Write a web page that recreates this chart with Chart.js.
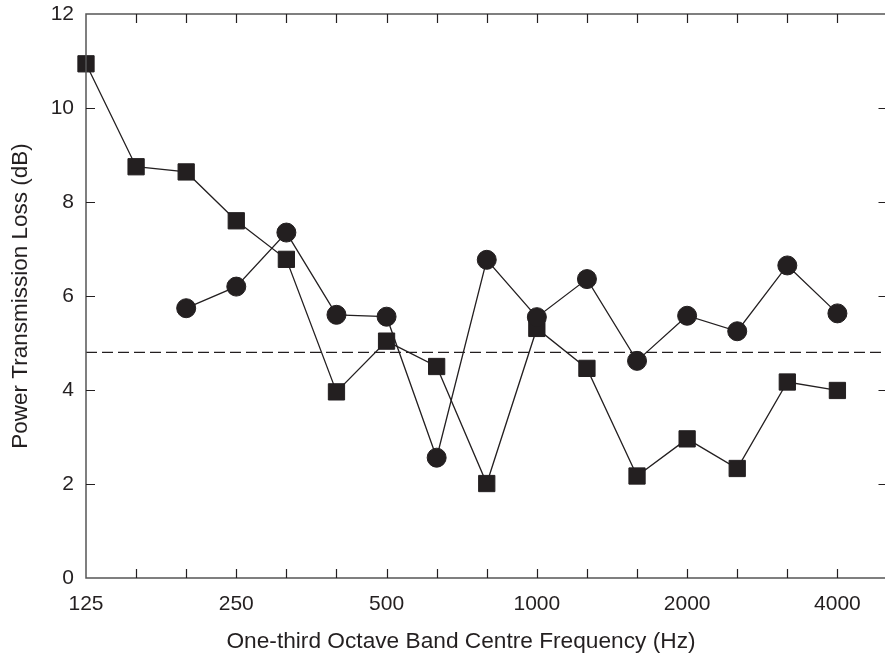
<!DOCTYPE html>
<html>
<head>
<meta charset="utf-8">
<script src="https://cdn.jsdelivr.net/npm/chart.js@4"></script>
<style>
html,body{margin:0;padding:0;background:#fff;overflow:hidden;}
#wrap{width:900px;height:657px;}
</style>
</head>
<body>
<div id="wrap"><canvas id="c" width="900" height="657"></canvas></div>
<script>
// One-third octave band centre frequencies (Hz)
const bands = ['125','160','200','250','315','400','500','630','800','1000','1250','1600','2000','2500','3150','4000'];
// Series with square markers (dB)
const squareSeries = [10.94, 8.75, 8.64, 7.60, 6.78, 3.96, 5.04, 4.50, 2.01, 5.31, 4.46, 2.17, 2.96, 2.33, 4.17, 3.99];
// Series with circle markers (dB), starts at 200 Hz
const circleSeries = [null, null, 5.74, 6.20, 7.35, 5.60, 5.56, 2.56, 6.77, 5.55, 6.36, 4.62, 5.58, 5.25, 6.65, 5.63];
// Horizontal dashed reference level (dB)
const referenceLevel = 4.8;
// Labelled x ticks
const xTickLabels = ['125','250','500','1000','2000','4000'];
const yTicks = [0, 2, 4, 6, 8, 10, 12];
const xTitle = 'One-third Octave Band Centre Frequency (Hz)';
const yTitle = 'Power Transmission Loss (dB)';

const INK = '#231f20';
const FRAME = '#555555';
const FONT = 'Liberation Sans';

const toPoints = arr => arr.map((v, i) => v === null ? null : {x: i, y: v}).filter(p => p);

const framePlugin = {
  id: 'frame',
  afterDatasetsDraw(chart) {
    const {ctx, chartArea: a, scales: {x, y}} = chart;
    ctx.save();
    ctx.strokeStyle = FRAME;
    ctx.lineWidth = 1.5;
    ctx.beginPath();
    ctx.moveTo(a.right + 2, a.top); ctx.lineTo(a.left, a.top);
    ctx.lineTo(a.left, a.bottom); ctx.lineTo(a.right + 2, a.bottom);
    ctx.stroke();
    ctx.strokeStyle = INK;
    ctx.lineWidth = 1.2;
    const tl = 9;
    ctx.beginPath();
    for (let i = 1; i < bands.length; i++) {
      const px = Math.round(x.getPixelForValue(i)) + 0.5;
      ctx.moveTo(px, a.bottom); ctx.lineTo(px, a.bottom - tl);
      ctx.moveTo(px, a.top); ctx.lineTo(px, a.top + tl);
    }
    yTicks.slice(1, -1).forEach(v => {
      const py = Math.round(y.getPixelForValue(v)) + 0.5;
      ctx.moveTo(a.left, py); ctx.lineTo(a.left + tl, py);
      ctx.moveTo(a.right, py); ctx.lineTo(a.right - tl, py);
    });
    ctx.stroke();
    // x-axis title (offset left of the plot centre, as in the original figure)
    ctx.fillStyle = INK;
    ctx.font = '22.7px "' + FONT + '"';
    ctx.textAlign = 'center';
    ctx.textBaseline = 'middle';
    ctx.fillText(xTitle, 461, 642);
    ctx.restore();
  }
};

new Chart(document.getElementById('c'), {
  type: 'line',
  data: {
    datasets: [
      {
        label: 'reference',
        data: [{x: 0, y: referenceLevel}, {x: bands.length, y: referenceLevel}],
        borderColor: INK, borderWidth: 1.3, borderDash: [11, 5],
        pointRadius: 0, fill: false, order: 3, clip: false
      },
      {
        label: 'squares',
        data: toPoints(squareSeries),
        borderColor: INK, borderWidth: 1.3,
        pointStyle: 'rect', pointRadius: 11.5,
        pointBackgroundColor: INK, pointBorderColor: INK, pointBorderWidth: 1,
        fill: false, tension: 0, order: 2, clip: false
      },
      {
        label: 'circles',
        data: toPoints(circleSeries),
        borderColor: INK, borderWidth: 1.3,
        pointStyle: 'circle', pointRadius: 9.5,
        pointBackgroundColor: INK, pointBorderColor: INK, pointBorderWidth: 1,
        fill: false, tension: 0, order: 1, clip: false
      }
    ]
  },
  options: {
    responsive: false,
    animation: false,
    events: [],
    layout: {padding: {top: 14, right: 9, left: 0, bottom: 0}},
    plugins: {legend: {display: false}, tooltip: {enabled: false}},
    scales: {
      x: {
        type: 'linear', min: 0, max: bands.length,
        grid: {display: false, drawTicks: false},
        border: {display: false},
        afterBuildTicks: s => { s.ticks = bands.map((b, i) => ({value: i})); },
        ticks: {
          autoSkip: false, maxRotation: 0, padding: 14,
          color: INK, font: {family: FONT, size: 21},
          callback: v => (xTickLabels.includes(bands[v]) ? bands[v] : '')
        },
        title: {display: false},
        afterFit: s => { s.height = 79; s.paddingLeft = 0; s.paddingRight = 0; }
      },
      y: {
        min: 0, max: 12,
        grid: {display: false, drawTicks: false},
        border: {display: false},
        afterBuildTicks: s => { s.ticks = yTicks.map(v => ({value: v})); },
        ticks: {
          padding: 12, color: INK, font: {family: FONT, size: 21}
        },
        title: {
          display: true, text: yTitle,
          color: INK, font: {family: FONT, size: 22.5}, padding: {top: 7, bottom: 0}
        },
        afterFit: s => { s.width = 86; s.paddingTop = 0; s.paddingBottom = 0; }
      }
    }
  },
  plugins: [framePlugin]
});
</script>
</body>
</html>
